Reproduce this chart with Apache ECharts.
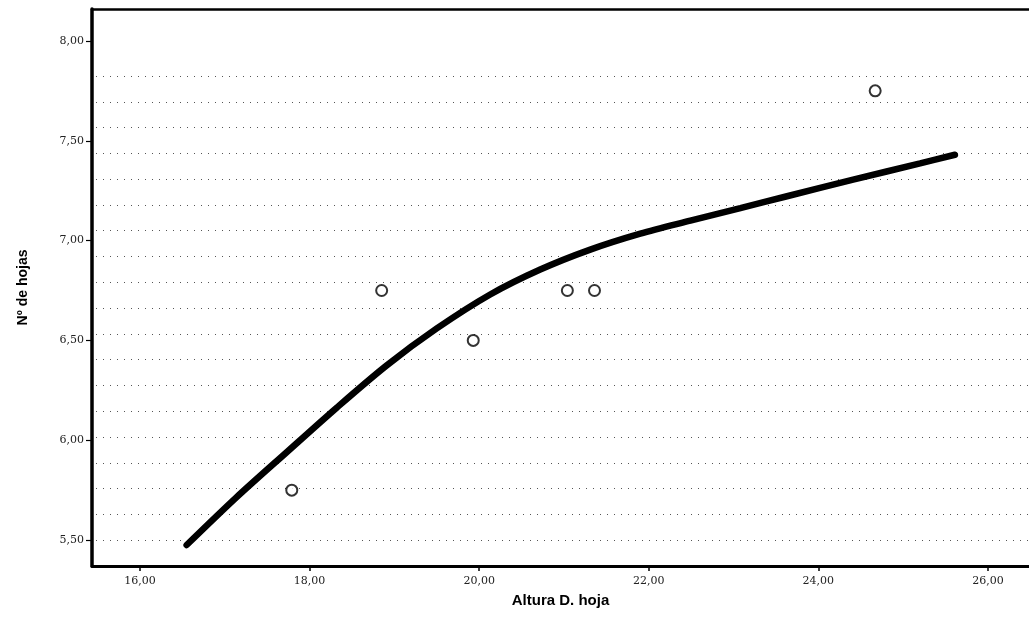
<!DOCTYPE html>
<html>
<head>
<meta charset="utf-8">
<script src="https://cdn.jsdelivr.net/npm/echarts@6/dist/echarts.min.js"></script>
<style>html,body{margin:0;padding:0;background:#fff}#c{width:1029px;height:628px}</style>
</head>
<body>
<div id="c"></div>
<script>
// Observed points (Altura D. hoja, Nº de hojas)
var obsX = [17.79, 18.85, 19.93, 21.04, 21.36, 24.67];
var obsY = [5.75, 6.75, 6.50, 6.75, 6.75, 7.75];
// Fitted curve
var fitX = [16.55, 17.14, 17.73, 18.32, 18.91, 19.50, 20.13, 20.72, 21.31, 21.90, 22.49, 23.08, 23.63, 24.41, 25.20, 25.61];
var fitY = [5.475, 5.715, 5.940, 6.163, 6.375, 6.560, 6.730, 6.855, 6.955, 7.035, 7.100, 7.163, 7.222, 7.305, 7.387, 7.430];
// Tick labels
var xTicks = [16, 18, 20, 22, 24, 26];
var yTicks = [5.5, 6.0, 6.5, 7.0, 7.5, 8.0];

function fmt(v){ return Number(v).toFixed(2).replace('.', ','); }
function pairs(a, b){ return a.map(function(v, i){ return [v, b[i]]; }); }

var chart = echarts.init(document.getElementById('c'));
var labelStyle = { color: '#222', fontFamily: 'DejaVu Serif', fontSize: 11, formatter: fmt };
chart.setOption({
  animation: false,
  backgroundColor: '#fff',
  grid: [
    { left: 92, top: 9, right: 0, bottom: 62, show: false },
    { left: 96, top: 76, right: 0, bottom: 62, show: false }
  ],
  xAxis: [
    {
      gridIndex: 0, type: 'value', min: 15.434, max: 26.484,
      name: 'Altura D. hoja', nameLocation: 'middle', nameGap: 27,
      nameTextStyle: { color: '#000', fontFamily: 'Liberation Sans', fontWeight: 'bold', fontSize: 15 },
      axisLine: { show: true, lineStyle: { color: '#000', width: 3 } },
      axisTick: { show: true, length: 5, lineStyle: { color: '#000', width: 1.5 }, customValues: xTicks },
      axisLabel: Object.assign({ margin: 10, customValues: xTicks }, labelStyle),
      splitLine: { show: false }
    },
    {
      gridIndex: 1, type: 'value', min: 0, max: 1, show: false
    },
    {
      gridIndex: 0, type: 'value', position: 'top', min: 15.434, max: 26.484,
      axisLine: { show: true, lineStyle: { color: '#000', width: 2.5 } },
      axisTick: { show: false }, axisLabel: { show: false }, splitLine: { show: false }
    }
  ],
  yAxis: [
    {
      gridIndex: 0, type: 'value', min: 5.37, max: 8.16,
      name: 'Nº de hojas', nameLocation: 'middle', nameGap: 62,
      nameTextStyle: { color: '#000', fontFamily: 'Liberation Sans', fontWeight: 'bold', fontSize: 14 },
      axisLine: { show: true, lineStyle: { color: '#000', width: 3.5 } },
      axisTick: { show: true, length: 6, lineStyle: { color: '#000', width: 1.2 }, customValues: yTicks },
      axisLabel: Object.assign({ margin: 8, customValues: yTicks }, labelStyle),
      splitLine: { show: false }
    },
    {
      gridIndex: 1, type: 'value', min: 0, max: 19, interval: 1,
      axisLine: { show: false }, axisTick: { show: false }, axisLabel: { show: false },
      splitLine: { show: true, lineStyle: { color: '#555', width: 1, type: [1, 6] } }
    }
  ],
  series: [
    {
      type: 'line', xAxisIndex: 0, yAxisIndex: 0,
      data: pairs(fitX, fitY), smooth: 0.3, showSymbol: false, symbol: 'none',
      lineStyle: { color: '#000', width: 6.5, cap: 'round' }, z: 3
    },
    {
      type: 'scatter', xAxisIndex: 0, yAxisIndex: 0,
      data: pairs(obsX, obsY), symbol: 'circle', symbolSize: 11,
      itemStyle: { color: '#fff', borderColor: '#000', borderWidth: 2 }, z: 4
    }
  ]
});
</script>
</body>
</html>
